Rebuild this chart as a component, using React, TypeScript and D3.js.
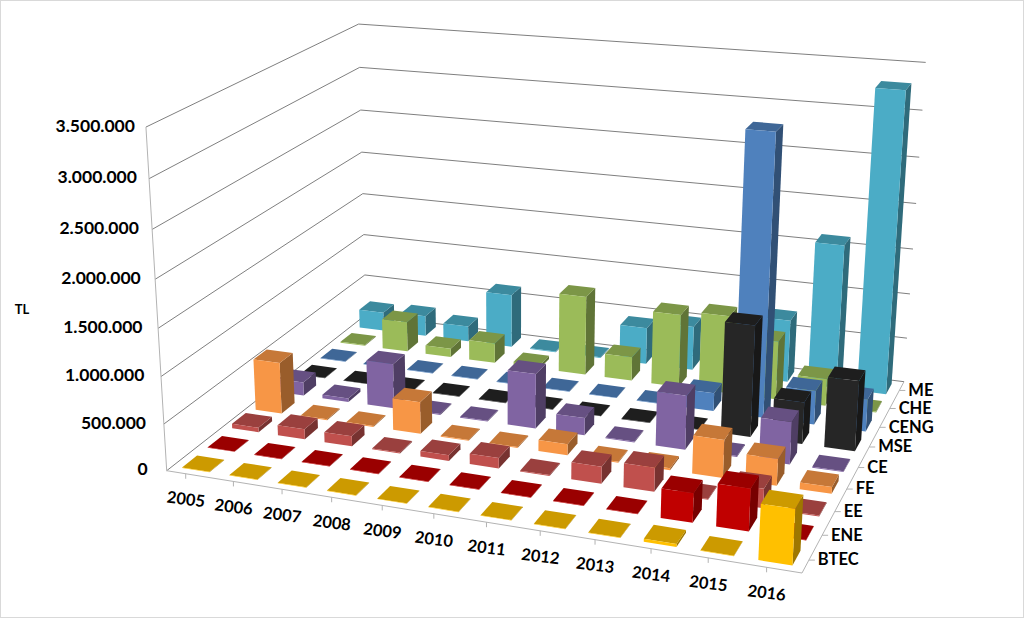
import React from "react";
import * as d3 from "d3";

const years = ["2005","2006","2007","2008","2009","2010","2011","2012","2013","2014","2015","2016"];
const seriesNames = ["BTEC","ENE","EE","FE","CE","MSE","CENG","CHE","ME"];
const BTEC = [5,5,5,5,5,5,5,5,5,30,5,550].map(v=>v*1000);
const ENE = [5,5,5,5,5,5,5,5,5,300,430,5].map(v=>v*1000);
const EE = [50,110,110,10,60,110,10,180,250,10,200,10].map(v=>v*1000);
const FE = [570,10,10,350,10,10,120,10,20,400,280,70].map(v=>v*1000);
const CE = [150,40,500,10,10,600,190,10,580,10,450,10].map(v=>v*1000);
const MSE = [5,5,5,5,5,5,5,5,5,1200,450,750].map(v=>v*1000);
const CENG = [5,5,5,5,5,5,5,5,200,3050,370,350].map(v=>v*1000);
const CHE = [10,350,100,230,40,900,270,820,870,650,300,10].map(v=>v*1000);
const ME = [220,240,180,620,10,10,420,500,500,700,1600,3300].map(v=>v*1000);
const seriesValues = [BTEC,ENE,EE,FE,CE,MSE,CENG,CHE,ME];
const frontColors = ["#FFC000","#C00000","#C0504D","#F79646","#8064A2","#262626","#4F81BD","#9BBB59","#4BACC6"];
const yTicks = [0,500000,1000000,1500000,2000000,2500000,3000000,3500000];

const W = 1024, H = 618;
type P = [number, number];
const FL: P = [166.7,470.7], FR: P = [802,573], BR: P = [904,381.7], BL: P = [365.8,314.8];
const FLt: P = [145,127], BLt: P = [360,20], BRt: P = [925,67];

function solve(A: number[][], b: number[]): number[] {
  const n = b.length;
  const M = A.map((r,i)=>[...r,b[i]]);
  for (let c=0;c<n;c++){
    let p=c; for(let r=c+1;r<n;r++) if(Math.abs(M[r][c])>Math.abs(M[p][c])) p=r;
    [M[c],M[p]]=[M[p],M[c]];
    for(let r=0;r<n;r++){ if(r===c) continue; const f=M[r][c]/M[c][c]; for(let k=c;k<=n;k++) M[r][k]-=f*M[c][k]; }
  }
  return M.map((r,i)=>r[n]/r[i]);
}
// floor homography (u across years, v front-to-back)
const floorPts: [number,number,P][] = [[0,0,FL],[1,0,FR],[1,1,BR],[0,1,BL]];
const hA:number[][]=[], hb:number[]=[];
floorPts.forEach(([u,v,[x,y]])=>{
  hA.push([u,v,1,0,0,0,-u*x,-v*x]); hb.push(x);
  hA.push([0,0,0,u,v,1,-u*y,-v*y]); hb.push(y);
});
const h = solve(hA,hb);
const homog=(u:number,v:number):[number,number,number]=>[h[0]*u+h[1]*v+h[2],h[3]*u+h[4]*v+h[5],h[6]*u+h[7]*v+1];
// vertical column (a,b,c), least squares from the three known wall tops
const topPts:[number,number,P][]=[[0,0,FLt],[0,1,BLt],[1,1,BRt]];
const rows:number[][]=[], rhs:number[]=[];
topPts.forEach(([u,v,[x,y]])=>{
  const [X,Y,Z]=homog(u,v);
  rows.push([1,0,-x]); rhs.push(x*Z-X);
  rows.push([0,1,-y]); rhs.push(y*Z-Y);
});
const ATA=[0,1,2].map(i=>[0,1,2].map(j=>d3.sum(rows,r=>r[i]*r[j])));
const ATb=[0,1,2].map(i=>d3.sum(rows,(r,k)=>r[i]*rhs[k]));
const [va,vb,vc]=solve(ATA,ATb);
const project=(u:number,v:number,w:number):P=>{
  const [X,Y,Z]=homog(u,v);
  const d=Z+w*vc;
  return [(X+w*va)/d,(Y+w*vb)/d];
};

const uScale = d3.scaleBand<string>().domain(years).range([0,1]).paddingInner(0.42).paddingOuter(0.21);
const vScale = d3.scaleBand<string>().domain(seriesNames).range([0,1]).paddingInner(0.42).paddingOuter(0.21);
const wScale = d3.scaleLinear().domain([0,3500000]).range([0,1]);
const pathOf=(pts:P[])=>d3.line()(pts)+"Z";
const shade=(c:string,k:number)=>{const r=d3.rgb(c);return d3.rgb(r.r*k,r.g*k,r.b*k).formatHex();};

const font="Lato, 'Open Sans', sans-serif";

function Bar({yi,si}:{yi:number;si:number}){
  const u0=uScale(years[yi])!, u1=u0+uScale.bandwidth();
  const v0=vScale(seriesNames[si])!, v1=v0+vScale.bandwidth();
  const w=wScale(seriesValues[si][yi]);
  const c=frontColors[si];
  const a=project(u0,v0,0),b=project(u1,v0,0),e=project(u1,v1,0);
  const at=project(u0,v0,w),bt=project(u1,v0,w),et=project(u1,v1,w),dt=project(u0,v1,w);
  return <g>
    <path d={pathOf([b,e,et,bt])} fill={shade(c,0.62)}/>
    <path d={pathOf([at,bt,et,dt])} fill={shade(c,0.8)}/>
    <path d={pathOf([a,b,bt,at])} fill={c}/>
  </g>;
}

export default function App(){
  const grid="#7f7f7f", axis="#b3b3b3";
  const order:[number,number][]=[];
  d3.range(seriesNames.length-1,-1,-1).forEach(si=>years.forEach((_,yi)=>order.push([yi,si])));
  const l=(a:P,b:P,s:string,k:string|number,sw=1)=><line key={k} x1={a[0]} y1={a[1]} x2={b[0]} y2={b[1]} stroke={s} strokeWidth={sw}/>;
  return <svg width={W} height={H} viewBox={`0 0 ${W} ${H}`} style={{position:"fixed",left:0,top:0,background:"#fff"}}>
    <rect x={0.5} y={0.5} width={W-1} height={H-1} fill="#fff" stroke="#d9d9d9"/>
    {yTicks.map(t=>{const w=wScale(t);return <g key={t}>
      {l(project(0,0,w),project(0,1,w),grid,"a")}
      {l(project(0,1,w),project(1,1,w),grid,"b")}
    </g>;})}
    {l(project(0,0,0),project(0,0,1),axis,"yaxis")}
    {l(FL,FR,axis,"front")}
    {l(FR,BR,axis,"right")}
    {years.map(y=>{const p=project(uScale(y)!+uScale.bandwidth()/2-0.008,0,0);
      return <g key={y}>
        <line x1={p[0]} y1={p[1]} x2={p[0]} y2={p[1]+5} stroke={axis}/>
        <text x={p[0]} y={p[1]+27} transform={`rotate(7 ${p[0]} ${p[1]+27})`} textAnchor="middle" dominantBaseline="middle" fontFamily={font} fontWeight={700} fontSize={16.5} fill="#000">{y}</text>
      </g>;})}
    {seriesNames.map(s=>{const p=project(1,vScale(s)!+vScale.bandwidth()/2,0);
      return <g key={s}>
        <line x1={p[0]} y1={p[1]} x2={p[0]+6} y2={p[1]} stroke={axis}/>
        <text x={p[0]+9} y={p[1]+1} dominantBaseline="middle" fontFamily={font} fontWeight={700} fontSize={16.5} fill="#000">{s}</text>
      </g>;})}
    {yTicks.map(t=>{const p=project(0,0,wScale(t));
      return <text key={t} x={p[0]-11-8*(1-t/3500000)} y={p[1]} textAnchor="end" dominantBaseline="middle" fontFamily={font} fontWeight={700} fontSize={17.5} fill="#000">{t===0?"0":d3.format(",")(t).replace(/,/g,".")}</text>;})}
    <text x={22} y={311} textAnchor="middle" dominantBaseline="middle" fontFamily={font} fontWeight={700} fontSize={13} fill="#000">TL</text>
    {order.map(([yi,si])=><Bar key={`${yi}-${si}`} yi={yi} si={si}/>)}
  </svg>;
}
